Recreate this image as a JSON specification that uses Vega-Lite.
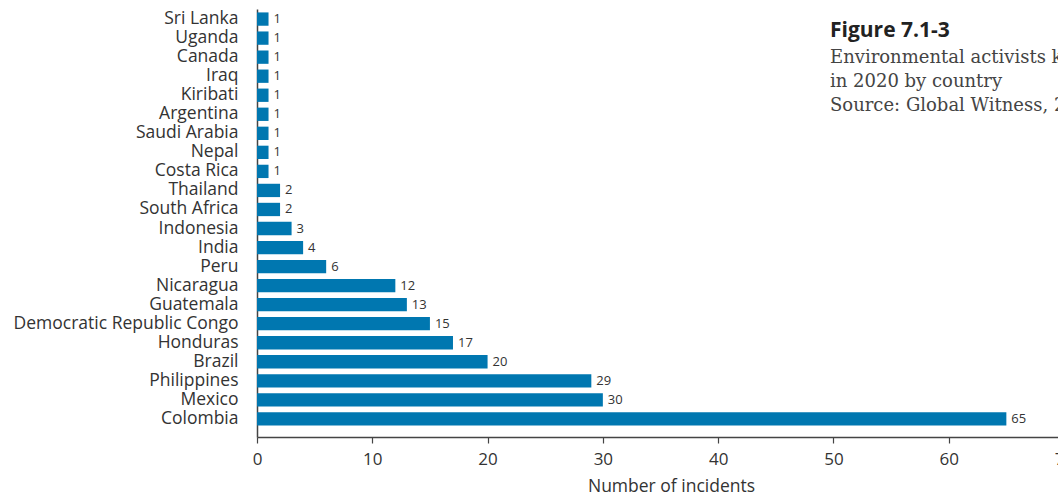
{
  "$schema": "https://vega.github.io/schema/vega-lite/v6.json",
  "autosize": {"type": "none"},
  "padding": {"left": 257, "top": 9, "right": 0, "bottom": 61},
  "width": 807,
  "height": 428,
  "background": "white",
  "title": {
    "text": "Figure 7.1-3",
    "subtitle": ["Environmental activists killed", "in 2020 by country", "Source: Global Witness, 2021"],
    "orient": "top",
    "anchor": "start",
    "frame": "group",
    "dx": 573,
    "offset": -106,
    "font": "Open Sans",
    "fontSize": 21,
    "fontWeight": "bold",
    "color": "#222222",
    "subtitleFont": "DejaVu Serif",
    "subtitleFontSize": 18,
    "subtitleColor": "#444444",
    "subtitleLineHeight": 24,
    "subtitlePadding": 8
  },
  "data": {
    "values": [
      {"country": "Sri Lanka", "incidents": 1},
      {"country": "Uganda", "incidents": 1},
      {"country": "Canada", "incidents": 1},
      {"country": "Iraq", "incidents": 1},
      {"country": "Kiribati", "incidents": 1},
      {"country": "Argentina", "incidents": 1},
      {"country": "Saudi Arabia", "incidents": 1},
      {"country": "Nepal", "incidents": 1},
      {"country": "Costa Rica", "incidents": 1},
      {"country": "Thailand", "incidents": 2},
      {"country": "South Africa", "incidents": 2},
      {"country": "Indonesia", "incidents": 3},
      {"country": "India", "incidents": 4},
      {"country": "Peru", "incidents": 6},
      {"country": "Nicaragua", "incidents": 12},
      {"country": "Guatemala", "incidents": 13},
      {"country": "Democratic Republic Congo", "incidents": 15},
      {"country": "Honduras", "incidents": 17},
      {"country": "Brazil", "incidents": 20},
      {"country": "Philippines", "incidents": 29},
      {"country": "Mexico", "incidents": 30},
      {"country": "Colombia", "incidents": 65}
    ]
  },
  "encoding": {
    "y": {
      "field": "country",
      "type": "nominal",
      "sort": null,
      "scale": {"paddingInner": 0.3, "paddingOuter": 0.39, "align": 0.23},
      "axis": {
        "title": null,
        "ticks": false,
        "domainColor": "#444444",
        "domainWidth": 1.5,
        "labelFont": "Open Sans",
        "labelFontSize": 17.5,
        "labelColor": "#333333",
        "labelPadding": 19,
        "labelLimit": 400
      }
    },
    "x": {
      "field": "incidents",
      "type": "quantitative",
      "scale": {"domain": [0, 70], "nice": false},
      "axis": {
        "title": "Number of incidents",
        "values": [0, 10, 20, 30, 40, 50, 60, 70],
        "grid": false,
        "labelFlush": false,
        "labelBound": false,
        "domainColor": "#444444",
        "domainWidth": 1.5,
        "tickColor": "#444444",
        "tickSize": 6,
        "tickWidth": 1.2,
        "labelFont": "Open Sans",
        "labelFontSize": 17,
        "labelColor": "#333333",
        "labelPadding": 8,
        "titleFont": "Open Sans",
        "titleFontSize": 17.5,
        "titleFontWeight": "normal",
        "titleColor": "#333333",
        "titlePadding": 10,
        "titleX": 414
      }
    }
  },
  "layer": [
    {"mark": {"type": "bar", "color": "#0077B0"}},
    {
      "mark": {"type": "text", "align": "left", "baseline": "middle", "dx": 5, "font": "Open Sans", "fontSize": 13, "color": "#333333"},
      "encoding": {"text": {"field": "incidents", "type": "quantitative"}}
    }
  ],
  "config": {"view": {"stroke": null}}
}
